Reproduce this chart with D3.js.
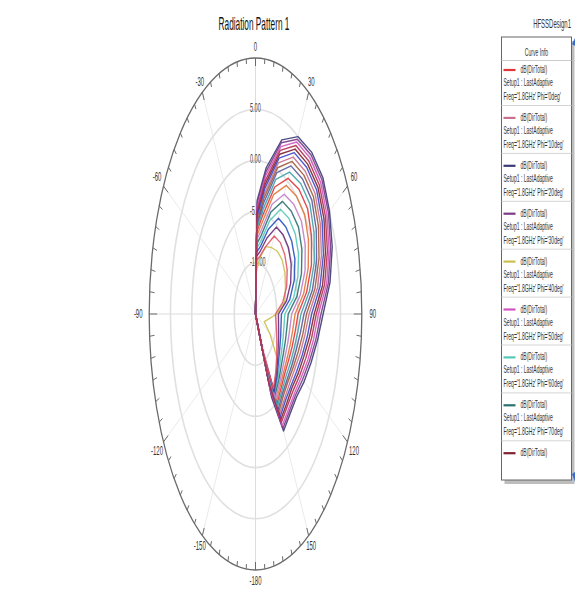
<!DOCTYPE html>
<html>
<head>
<meta charset="utf-8">
<script src="https://cdn.jsdelivr.net/npm/d3@7"></script>
<style>
  body { margin: 0; background: #fff; }
  svg { display: block; font-family: Arial, "Liberation Sans", sans-serif; }
</style>
</head>
<body>
<script>
(function (){

    // theta sample points (deg) for every curve
    var thetaDeg = [0, 2, 10, 20, 30, 40, 50, 60, 70, 80, 90, 100, 110, 120, 130, 140, 150, 155, 160];

    // dB(DirTotal) per Phi cut (-15 = centre of plot)
    var phi0   = [-15,-7.0,-5.2,-1.8,0.3,0.9,1.0,0.2,-1.0,-2.8,-5.0,-5.5,-5.8,-6.0,-6.0,-5.6,-4.9,-9.5,-15];
    var phi10  = [-15,-5.8,-3.1,0.7,2.7,3.2,3.3,2.6,1.5,-0.2,-2.4,-3.2,-3.8,-4.3,-4.5,-4.3,-3.7,-8.5,-15];
    var phi20  = [-15,-3.9,-0.5,3.1,5.0,5.6,5.7,5.1,4.2,2.8,0.9,-0.2,-1.1,-1.8,-2.4,-2.3,-1.8,-6.0,-15];
    var phi30  = [-15,-4.2,-0.9,2.8,4.7,5.3,5.4,4.8,3.8,2.4,0.4,-0.6,-1.5,-2.2,-2.7,-2.6,-2.1,-6.5,-15];
    var phi40  = [-15,-11.0,-9.5,-8.0,-7.5,-7.0,-6.8,-7.0,-7.5,-8.0,-10.0,-12.0,-12.8,-11.0,-8.5,-7.0,-6.5,-10.0,-15];
    var phi50  = [-15,-4.6,-1.3,2.4,4.4,4.9,5.0,4.4,3.4,2.0,-0.2,-1.1,-1.9,-2.6,-3.0,-2.9,-2.4,-7.0,-15];
    var phi60  = [-15,-8.6,-7.8,-5.3,-3.2,-2.8,-2.8,-3.3,-4.4,-5.9,-8.1,-8.2,-8.1,-7.9,-7.5,-6.8,-6.0,-10.5,-15];
    var phi70  = [-15,-8.2,-7.2,-4.4,-2.3,-1.9,-1.8,-2.4,-3.5,-5.1,-7.3,-7.5,-7.5,-7.4,-7.1,-6.5,-5.8,-10.0,-15];
    var phi80  = [-15,-5.2,-2.2,1.6,3.6,4.1,4.2,3.6,2.5,1.0,-1.2,-2.1,-2.9,-3.4,-3.8,-3.6,-3.1,-8.0,-15];
    var phi90  = [-15,-5.5,-2.6,1.2,3.2,3.7,3.8,3.1,2.0,0.4,-1.8,-2.6,-3.3,-3.8,-4.1,-4.0,-3.4,-8.0,-15];
    var phi100 = [-15,-7.4,-5.9,-2.6,-0.5,0.0,0.1,-0.6,-1.8,-3.5,-5.7,-6.1,-6.3,-6.4,-6.3,-5.9,-5.2,-9.5,-15];
    var phi110 = [-15,-6.1,-3.5,0.2,2.2,2.7,2.8,2.1,0.9,-0.8,-3.0,-3.7,-4.3,-4.7,-4.9,-4.7,-4.0,-8.5,-15];
    var phi120 = [-15,-6.4,-4.0,-0.3,1.7,2.2,2.3,1.5,0.3,-1.4,-3.6,-4.3,-4.8,-5.1,-5.2,-5.0,-4.3,-9.0,-15];
    var phi130 = [-15,-6.7,-4.6,-1.0,1.0,1.6,1.7,0.9,-0.3,-2.1,-4.3,-4.9,-5.3,-5.5,-5.6,-5.3,-4.6,-9.0,-15];
    var phi140 = [-15,-7.8,-6.6,-3.6,-1.5,-1.0,-0.9,-1.5,-2.6,-4.3,-6.5,-6.8,-6.9,-6.9,-6.7,-6.2,-5.5,-10.0,-15];
    var phi150 = [-15,-9.0,-8.3,-6.2,-4.2,-3.9,-3.9,-4.3,-5.3,-6.8,-8.9,-8.9,-8.7,-8.4,-7.9,-7.1,-6.2,-11.0,-15];
    var phi160 = [-15,-9.4,-8.8,-7.1,-5.2,-4.9,-4.9,-5.3,-6.2,-7.6,-9.6,-9.5,-9.2,-8.8,-8.2,-7.4,-6.4,-11.0,-15];
    var phi170 = [-15,-9.8,-9.3,-8.0,-6.2,-5.9,-6.0,-6.4,-7.2,-8.5,-10.3,-10.1,-9.7,-9.2,-8.5,-7.6,-6.6,-11.5,-15];
    var phi180 = [-15,-4.9,-1.8,2.0,4.0,4.5,4.6,4.0,3.0,1.5,-0.7,-1.6,-2.4,-3.0,-3.4,-3.3,-2.8,-7.5,-15];

    var curveData = [phi0, phi10, phi20, phi30, phi40, phi50, phi60, phi70, phi80, phi90,
                     phi100, phi110, phi120, phi130, phi140, phi150, phi160, phi170, phi180];
    var phiLabels = ["0deg","10deg","20deg","30deg","40deg","50deg","60deg","70deg","80deg","90deg",
                     "100deg","110deg","120deg","130deg","140deg","150deg","160deg","170deg","180deg"];
    var curveColors = ["#e0353a","#c8708c","#3a3a78","#7a3c86","#ccc050","#d055c0","#55c8b8","#2a7070","#802030","#3848c8",
                       "#e07838","#a05a3a","#5a5a9a","#40a0a8","#c080c8","#2850c0","#6a2a7a","#e05868","#b03050"];

    // only the first entries fit in the scrolled legend box
    var legendShown = 9;

    var ringValues = [-10, -5, 0, 5];
    var ringLabels = ["-10.00", "-5.00", "0.00", "5.00"];
    var angleTicks = [0, 30, 60, 90, 120, 150, 180, 210, 240, 270, 300, 330];
    var angleLabels = ["0","30","60","90","120","150","-180","-150","-120","-90","-60","-30"];

    var width = 575, height = 593;
    var cx = 255.5, cy = 314;
    var squish = 0.46; // picture is compressed horizontally

    var svg = d3.select("body").append("svg")
        .attr("width", width)
        .attr("height", height);

    //radial scales, one per axis because the plot is an ellipse
    var rX = d3.scaleLinear().domain([-15, 10]).range([0, 106.3]).clamp(true);
    var rY = d3.scaleLinear().domain([-15, 10]).range([0, 256]).clamp(true);

    function pt(theta, db){
        var a = theta * Math.PI / 180;
        return [cx + rX(db) * Math.sin(a), cy - rY(db) * Math.cos(a)];
    }

    //squished text helper
    function label(g, x, y, txt, size, anchor, fill){
        return g.append("text")
            .attr("transform", "translate(" + x + "," + y + ") scale(" + squish + ",1)")
            .attr("text-anchor", anchor || "start")
            .style("font-size", size + "px")
            .style("fill", fill || "#222")
            .text(txt);
    }

    //title
    label(svg, 254, 30, "Radiation Pattern 1", 18, "middle", "#111");

    var grid = svg.append("g");

    //spokes every 30 deg
    grid.selectAll(".spoke")
        .data(angleTicks)
        .enter()
        .append("line")
        .attr("class", "spoke")
        .attr("x1", cx).attr("y1", cy)
        .attr("x2", function(d){ return pt(d, 10)[0]; })
        .attr("y2", function(d){ return pt(d, 10)[1]; })
        .style("stroke", function(d){ return (d % 90 === 0) ? "#dcdcdc" : "#ebebeb"; })
        .style("stroke-width", 1);

    //rings
    grid.selectAll(".ring")
        .data(ringValues)
        .enter()
        .append("ellipse")
        .attr("class", "ring")
        .attr("cx", cx).attr("cy", cy)
        .attr("rx", function(d){ return rX(d); })
        .attr("ry", function(d){ return rY(d); })
        .style("fill", "none")
        .style("stroke", "#e0e0e0")
        .style("stroke-width", 1.6);

    //outer ring
    grid.append("ellipse")
        .attr("cx", cx).attr("cy", cy)
        .attr("rx", rX(10)).attr("ry", rY(10))
        .style("fill", "none")
        .style("stroke", "#6a6a6a")
        .style("stroke-width", 1.3);

    //tick marks every 5 deg, pointing inward
    var tickAngles = d3.range(0, 360, 5);
    function tickEnd(d, k){
        var p = pt(d, 10), dx = p[0] - cx, dy = p[1] - cy, L = Math.sqrt(dx*dx + dy*dy);
        var len = (d % 30 === 0) ? 8 : 5;
        return k === 0 ? p[0] - dx / L * len : p[1] - dy / L * len;
    }
    grid.selectAll(".tick")
        .data(tickAngles)
        .enter()
        .append("line")
        .attr("class", "tick")
        .attr("x1", function(d){ return pt(d, 10)[0]; })
        .attr("y1", function(d){ return pt(d, 10)[1]; })
        .attr("x2", function(d){ return tickEnd(d, 0); })
        .attr("y2", function(d){ return tickEnd(d, 1); })
        .style("stroke", "#6a6a6a")
        .style("stroke-width", 1);

    //angle labels outside the ring
    angleTicks.forEach(function(d, i){
        var p = pt(d, 10), dx = p[0] - cx, dy = p[1] - cy, L = Math.sqrt(dx*dx + dy*dy);
        var x = p[0] + dx / L * 11, y = p[1] + dy / L * 11 + 4;
        label(grid, x, y, angleLabels[i], 13, "middle", "#333");
    });

    //ring labels along the 0 deg axis
    ringValues.forEach(function(d, i){
        label(grid, 250, cy - rY(d) + 3, ringLabels[i], 12, "start", "#444");
    });

    //curves
    var line = d3.line()
        .x(function(d){ return pt(d[0], d[1])[0]; })
        .y(function(d){ return pt(d[0], d[1])[1]; });

    var plot = svg.append("g");
    curveData.forEach(function(vals, i){
        var pts = thetaDeg.map(function(t, j){ return [t, vals[j]]; });
        plot.append("path")
            .datum(pts)
            .attr("d", line)
            .style("fill", "none")
            .style("stroke", curveColors[i])
            .style("stroke-width", 1.4)
            .style("stroke-linejoin", "round")
            .style("opacity", 0.9);
    });

    //legend
    label(svg, 571, 28, "HFSSDesign1", 13, "end", "#333");

    var lx = 501.5, ly = 37, lw = 70, lh = 443;
    svg.append("rect")
        .attr("x", lx + 3).attr("y", ly + 4)
        .attr("width", lw).attr("height", lh)
        .style("fill", "#bdbdbd");
    svg.append("rect")
        .attr("x", lx).attr("y", ly)
        .attr("width", lw).attr("height", lh)
        .style("fill", "#fff")
        .style("stroke", "#666")
        .style("stroke-width", 1);

    var leg = svg.append("g");
    label(leg, lx + lw / 2, 56, "Curve Info", 11, "middle", "#333");
    leg.append("line")
        .attr("x1", lx).attr("x2", lx + lw)
        .attr("y1", 60.5).attr("y2", 60.5)
        .style("stroke", "#ccc");

    var step = 47.9;
    phiLabels.slice(0, legendShown).forEach(function(p, i){
        var y0 = 62 + i * step;
        var last = (i === legendShown - 1);
        leg.append("line")
            .attr("x1", lx + 2).attr("x2", lx + 14)
            .attr("y1", y0 + 8).attr("y2", y0 + 8)
            .style("stroke", curveColors[i])
            .style("stroke-width", 2.2);
        label(leg, lx + 19, y0 + 11, "dB(DirTotal)", 11, "start", "#333");
        if (last) return; // rest of this entry is scrolled out of view
        label(leg, lx + 2, y0 + 24, "Setup1 : LastAdaptive", 11, "start", "#333");
        label(leg, lx + 2, y0 + 38, "Freq='1.8GHz' Phi='" + p + "'", 11, "start", "#333");
        leg.append("line")
            .attr("x1", lx).attr("x2", lx + lw)
            .attr("y1", y0 + 43.5).attr("y2", y0 + 43.5)
            .style("stroke", "#d4d4d4");
    });

    //scroll arrows at the legend edge
    svg.append("path")
        .attr("d", "M572,44 L575,38 L575,46 Z")
        .style("fill", "#3a6ad0");
    svg.append("path")
        .attr("d", "M572,474 L575,482 L575,472 Z")
        .style("fill", "#3a6ad0");

})();
</script>
</body>
</html>
